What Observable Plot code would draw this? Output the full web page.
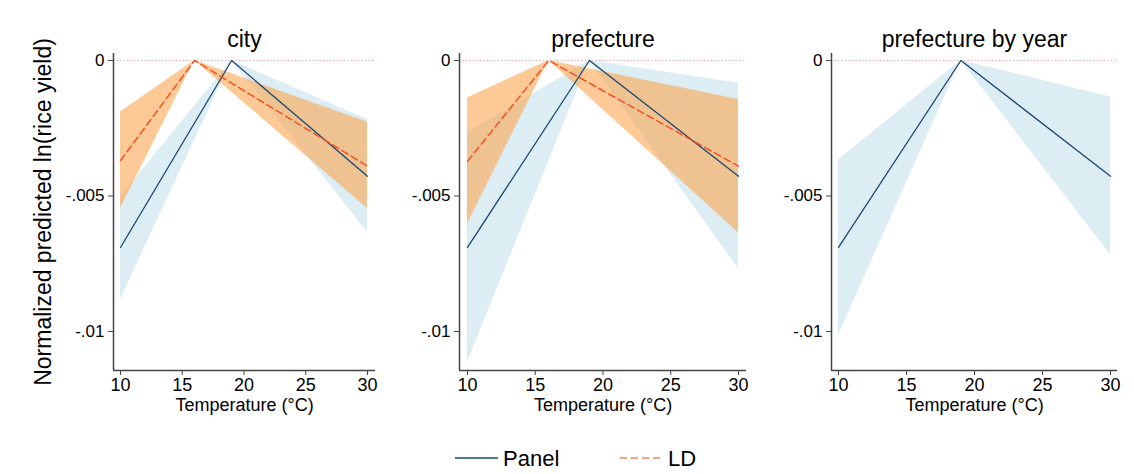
<!DOCTYPE html>
<html><head><meta charset="utf-8">
<script src="https://cdn.jsdelivr.net/npm/d3@7"></script>
<script src="https://cdn.jsdelivr.net/npm/@observablehq/plot@0.6"></script>
<style>
body{margin:0;background:#fff;}
#wrap{position:relative;width:1134px;height:474px;font-family:Arial,"Liberation Sans",sans-serif;overflow:hidden;}
.panel{position:absolute;top:0;}
#legend{position:absolute;left:0;top:440px;}
</style></head><body><div id="wrap"></div>
<script>
// ---- data ----
const titles = ["city", "prefecture", "prefecture by year"];
const xLabel = "Temperature (°C)";
const yLabel = "Normalized predicted ln(rice yield)";
const xTicks = [10, 15, 20, 25, 30];
const yTicks = [0, -0.005, -0.01];
const yTickLabels = ["0", "-.005", "-.01"];
const seriesNames = ["Panel", "LD"];
const panelTemps = [10, 19, 30];
const ldTemps = [10, 16, 30];
const panelEst = [-0.0069, 0, -0.00427];
// city
const cityPanelLo = [-0.00882, 0, -0.00634];
const cityPanelHi = [-0.00504, 0, -0.00218];
const cityLD = [-0.00369, 0, -0.0039];
const cityLDLo = [-0.00546, 0, -0.00546];
const cityLDHi = [-0.0019, 0, -0.00228];
// prefecture
const prefPanelLo = [-0.01113, 0, -0.00769];
const prefPanelHi = [-0.00268, 0, -0.00084];
const prefLD = [-0.00372, 0, -0.0039];
const prefLDLo = [-0.00603, 0, -0.00636];
const prefLDHi = [-0.00138, 0, -0.00144];
// prefecture by year
const pbyPanelLo = [-0.01015, 0, -0.00717];
const pbyPanelHi = [-0.00367, 0, -0.00135];

// ---- style ----
const navy = "#1a476f";
const ldColor = "#f4511e";
const blueBand = "#dcedf4";
const orangeBand = "#fca550";
const zeroColor = "#e59aa6";
const axisGray = "#444";
const font = 'Arial, "Liberation Sans", sans-serif';

const panels = [
  {title: titles[0], lo: cityPanelLo, hi: cityPanelHi, ld: cityLD, ldLo: cityLDLo, ldHi: cityLDHi,
   left: 0, width: 390, mL: 113, mR: 15, xDom: [9.433, 30.648], showY: true},
  {title: titles[1], lo: prefPanelLo, hi: prefPanelHi, ld: prefLD, ldLo: prefLDLo, ldHi: prefLDHi,
   left: 390, width: 370, mL: 69, mR: 14, xDom: [9.41, 30.59], showY: false},
  {title: titles[2], lo: pbyPanelLo, hi: pbyPanelHi, ld: null,
   left: 760, width: 374, mL: 71, mR: 17, xDom: [9.485, 30.515], showY: false}
];
const yDom = [-0.01144, 0.000258];

const wrap = document.getElementById("wrap");

panels.forEach(p => {
  const panelRows = panelTemps.map((t, i) => ({t, est: panelEst[i], lo: p.lo[i], hi: p.hi[i]}));
  const ldRows = p.ld ? ldTemps.map((t, i) => ({t, est: p.ld[i], lo: p.ldLo[i], hi: p.ldHi[i]})) : [];
  const marks = [
    Plot.ruleY([0], {stroke: zeroColor, strokeWidth: 1, strokeDasharray: "1.2,2.3"}),
    Plot.areaY(panelRows, {x: "t", y1: "lo", y2: "hi", fill: blueBand}),
  ];
  if (p.ld) marks.push(Plot.areaY(ldRows, {x: "t", y1: "lo", y2: "hi", fill: orangeBand, fillOpacity: 0.6}));
  marks.push(Plot.line(panelRows, {x: "t", y: "est", stroke: navy, strokeWidth: 1.3}));
  if (p.ld) marks.push(Plot.line(ldRows, {x: "t", y: "est", stroke: ldColor, strokeWidth: 1.5, strokeDasharray: "7,4"}));
  marks.push(
    Plot.ruleX([p.xDom[0]], {stroke: axisGray, strokeWidth: 1.5}),
    Plot.ruleY([yDom[0]], {stroke: axisGray, strokeWidth: 1.5}),
    Plot.axisX({ticks: xTicks, tickSize: 5, tickPadding: 3, fontSize: 18, stroke: axisGray, label: null}),
    Plot.axisY({ticks: yTicks, tickSize: 5, tickPadding: 4, fontSize: 17, stroke: axisGray,
      tickFormat: d => yTickLabels[yTicks.indexOf(d)], label: null}),
    Plot.text([xLabel], {frameAnchor: "bottom", lineAnchor: "middle", dy: 35, fontSize: 18, fill: "#000"}),
    Plot.text([p.title], {frameAnchor: "top", lineAnchor: "middle", dy: -14, fontSize: 23, fill: "#000"})
  );
  if (p.showY) marks.push(Plot.text([yLabel], {frameAnchor: "left", textAnchor: "middle", lineAnchor: "middle",
    dx: -70, rotate: -90, fontSize: 23, fill: "#000"}));
  const chart = Plot.plot({
    width: p.width, height: 420,
    marginLeft: p.mL, marginRight: p.mR, marginTop: 53, marginBottom: 50,
    x: {domain: p.xDom},
    y: {domain: yDom},
    style: {fontFamily: font, fontSize: "17px", color: "#000", background: "transparent", overflow: "visible"},
    marks
  });
  chart.classList.add("panel");
  chart.style.left = p.left + "px";
  wrap.appendChild(chart);
});

// legend
const leg = d3.select(wrap).append("svg").attr("id", "legend").attr("width", 1134).attr("height", 34)
  .style("font-family", font);
const legItems = [
  {name: seriesNames[0], color: navy, dash: null, x0: 455},
  {name: seriesNames[1], color: ldColor, dash: "7,4", x0: 620}
];
legItems.forEach(it => {
  leg.append("line").attr("x1", it.x0).attr("x2", it.x0 + 43).attr("y1", 18).attr("y2", 18)
    .attr("stroke", it.color).attr("stroke-width", 1.5).attr("stroke-dasharray", it.dash)
    .attr("stroke-opacity", it.dash ? 0.7 : 1);
  leg.append("text").attr("x", it.x0 + 48).attr("y", 26).attr("font-size", 22).attr("fill", "#000").text(it.name);
});
</script></body></html>
